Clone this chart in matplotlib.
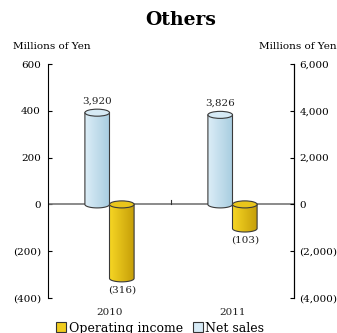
import numpy as np
import matplotlib.pyplot as plt
from matplotlib.patches import Polygon, Ellipse, Patch
from matplotlib.colors import LinearSegmentedColormap

# Data (Millions of Yen)
years = ['2010', '2011']
net_sales = [3920, 3826]          # right axis
operating_income = [-316, -103]   # left axis
net_labels = ['3,920', '3,826']
op_labels = ['(316)', '(103)']

left_ticks = [600, 400, 200, 0, -200, -400]
left_ticklabels = ['600', '400', '200', '0', '(200)', '(400)']
right_ticklabels = ['6,000', '4,000', '2,000', '0', '(2,000)', '(4,000)']

plt.rcParams['font.family'] = 'DejaVu Serif'

BLUE = ['#dbedf7', '#a8cde0']
GOLD = ['#f5d423', '#c49d08']


def cylinder(ax, xc, w, value, colors, top_color, eh=30):
    lower, upper = min(0, value), max(0, value)
    t = np.linspace(np.pi, 2 * np.pi, 60)
    arc = np.column_stack([xc + w / 2 * np.cos(t), lower + eh / 2 * np.sin(t)])
    verts = np.vstack([[xc - w / 2, upper], arc, [xc + w / 2, upper]])
    body = Polygon(verts, closed=True, facecolor='none', edgecolor='#3a3a3a',
                   lw=0.8, zorder=4)
    ax.add_patch(body)
    grad = np.linspace(0, 1, 50).reshape(1, -1)
    cmap = LinearSegmentedColormap.from_list('g', colors)
    im = ax.imshow(grad, cmap=cmap, aspect='auto', zorder=3,
                   extent=[xc - w / 2, xc + w / 2, lower - eh / 2, upper])
    im.set_clip_path(body)
    ax.add_patch(Ellipse((xc, upper), w, eh, facecolor=top_color,
                         edgecolor='#3a3a3a', lw=0.8, zorder=5))


fig = plt.figure(figsize=(3.37, 3.33), dpi=100)
ax = fig.add_axes([48 / 337, 35 / 333, 246 / 337, 234 / 333])
ax.set_xlim(0, 2)
ax.set_ylim(-400, 600)

centers = np.arange(len(years)) + 0.5
bw = 0.2
for i, c in enumerate(centers):
    cylinder(ax, c - bw / 2, bw, net_sales[i] / 10, BLUE, '#d6eaf5')
    cylinder(ax, c + bw / 2, bw, operating_income[i], GOLD, '#e9c51c')
    ax.text(c - bw / 2, net_sales[i] / 10 + 30, net_labels[i], ha='center',
            va='bottom', fontsize=7.5, color='#222222')
    ax.text(c + bw / 2, operating_income[i] - 30, op_labels[i], ha='center',
            va='top', fontsize=7.5, color='#222222')
    ax.text(c, -462, years[i], ha='center', va='center', fontsize=7.5,
            color='#222222', clip_on=False)

ax.axhline(0, color='#777777', lw=1.2, zorder=2)
ax.plot([1, 1], [0, 20], color='#333333', lw=0.8, zorder=2)

for s in ['top', 'bottom']:
    ax.spines[s].set_visible(False)
for s in ['left', 'right']:
    ax.spines[s].set_linewidth(0.8)
ax.set_xticks([])
ax.set_yticks(left_ticks)
ax.set_yticklabels(left_ticklabels, fontsize=7.5)
ax.tick_params(axis='y', direction='in', length=3, width=0.8, pad=5)

ax2 = ax.twinx()
ax2.set_ylim(-4000, 6000)
ax2.set_yticks([t * 10 for t in left_ticks])
ax2.set_yticklabels(right_ticklabels, fontsize=7.5)
ax2.tick_params(axis='y', direction='in', length=3, width=0.8, pad=4)
for s in ['top', 'bottom', 'left']:
    ax2.spines[s].set_visible(False)
ax2.spines['right'].set_linewidth(0.8)

fig.text(0.535, 0.94, 'Others', ha='center', va='center', fontsize=13.5,
         fontweight='bold')
fig.text(0.04, 0.86, 'Millions of Yen', ha='left', va='center', fontsize=7.5)
fig.text(0.998, 0.86, 'Millions of Yen', ha='right', va='center', fontsize=7.5)

handles = [Patch(facecolor='#f0cc1e', edgecolor='#333333', lw=0.8),
           Patch(facecolor='#d6eaf5', edgecolor='#333333', lw=0.8)]
fig.legend(handles, ['Operating income', 'Net sales'], loc='center',
           bbox_to_anchor=(0.475, 0.015), ncol=2, frameon=False, fontsize=9,
           handlelength=0.8, handleheight=0.8, handletextpad=0.2,
           columnspacing=0.8)

fig.savefig('out.png', dpi=100)
